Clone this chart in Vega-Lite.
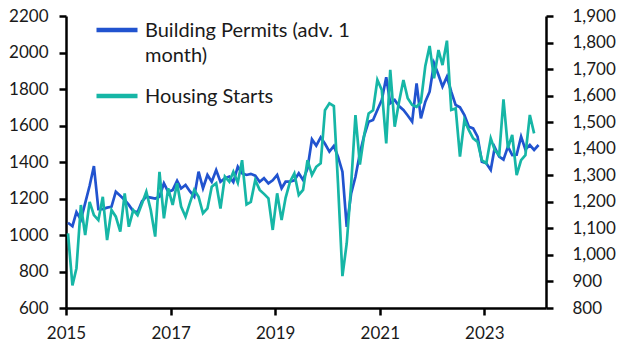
{
  "$schema": "https://vega.github.io/schema/vega-lite/v6.json",
  "width": 480,
  "height": 292,
  "autosize": "none",
  "padding": {"left": 66, "top": 16, "right": 84, "bottom": 47},
  "background": "white",
  "datasets": {
    "permits": [
      {"date": "2015-01-15", "value": 1067}, {"date": "2015-02-15", "value": 1048}, {"date": "2015-03-15", "value": 1125}, {"date": "2015-04-15", "value": 1085},
      {"date": "2015-05-15", "value": 1175}, {"date": "2015-06-15", "value": 1270}, {"date": "2015-07-15", "value": 1378}, {"date": "2015-08-15", "value": 1142},
      {"date": "2015-09-15", "value": 1142}, {"date": "2015-10-15", "value": 1150}, {"date": "2015-11-15", "value": 1155}, {"date": "2015-12-15", "value": 1237},
      {"date": "2016-01-15", "value": 1215}, {"date": "2016-02-15", "value": 1192}, {"date": "2016-03-15", "value": 1165}, {"date": "2016-04-15", "value": 1130},
      {"date": "2016-05-15", "value": 1125}, {"date": "2016-06-15", "value": 1185}, {"date": "2016-07-15", "value": 1210}, {"date": "2016-08-15", "value": 1205},
      {"date": "2016-09-15", "value": 1200}, {"date": "2016-10-15", "value": 1210}, {"date": "2016-11-15", "value": 1283}, {"date": "2016-12-15", "value": 1237},
      {"date": "2017-01-15", "value": 1246}, {"date": "2017-02-15", "value": 1297}, {"date": "2017-03-15", "value": 1255}, {"date": "2017-04-15", "value": 1274},
      {"date": "2017-05-15", "value": 1240}, {"date": "2017-06-15", "value": 1210}, {"date": "2017-07-15", "value": 1347}, {"date": "2017-08-15", "value": 1256},
      {"date": "2017-09-15", "value": 1329}, {"date": "2017-10-15", "value": 1292}, {"date": "2017-11-15", "value": 1356}, {"date": "2017-12-15", "value": 1292},
      {"date": "2018-01-15", "value": 1311}, {"date": "2018-02-15", "value": 1320}, {"date": "2018-03-15", "value": 1290}, {"date": "2018-04-15", "value": 1374},
      {"date": "2018-05-15", "value": 1338}, {"date": "2018-06-15", "value": 1329}, {"date": "2018-07-15", "value": 1335}, {"date": "2018-08-15", "value": 1325},
      {"date": "2018-09-15", "value": 1292}, {"date": "2018-10-15", "value": 1311}, {"date": "2018-11-15", "value": 1283}, {"date": "2018-12-15", "value": 1300},
      {"date": "2019-01-15", "value": 1329}, {"date": "2019-02-15", "value": 1256}, {"date": "2019-03-15", "value": 1292}, {"date": "2019-04-15", "value": 1292},
      {"date": "2019-05-15", "value": 1300}, {"date": "2019-06-15", "value": 1338}, {"date": "2019-07-15", "value": 1301}, {"date": "2019-08-15", "value": 1365},
      {"date": "2019-09-15", "value": 1524}, {"date": "2019-10-15", "value": 1490}, {"date": "2019-11-15", "value": 1535}, {"date": "2019-12-15", "value": 1500},
      {"date": "2020-01-15", "value": 1457}, {"date": "2020-02-15", "value": 1488}, {"date": "2020-03-15", "value": 1429}, {"date": "2020-04-15", "value": 1347},
      {"date": "2020-05-15", "value": 1045}, {"date": "2020-06-15", "value": 1228}, {"date": "2020-07-15", "value": 1319}, {"date": "2020-08-15", "value": 1448},
      {"date": "2020-09-15", "value": 1548}, {"date": "2020-10-15", "value": 1621}, {"date": "2020-11-15", "value": 1630}, {"date": "2020-12-15", "value": 1685},
      {"date": "2021-01-15", "value": 1740}, {"date": "2021-02-15", "value": 1864}, {"date": "2021-03-15", "value": 1722}, {"date": "2021-04-15", "value": 1740},
      {"date": "2021-05-15", "value": 1707}, {"date": "2021-06-15", "value": 1685}, {"date": "2021-07-15", "value": 1655}, {"date": "2021-08-15", "value": 1621},
      {"date": "2021-09-15", "value": 1831}, {"date": "2021-10-15", "value": 1639}, {"date": "2021-11-15", "value": 1730}, {"date": "2021-12-15", "value": 1785},
      {"date": "2022-01-15", "value": 1941}, {"date": "2022-02-15", "value": 1877}, {"date": "2022-03-15", "value": 1813}, {"date": "2022-04-15", "value": 1867},
      {"date": "2022-05-15", "value": 1785}, {"date": "2022-06-15", "value": 1712}, {"date": "2022-07-15", "value": 1700}, {"date": "2022-08-15", "value": 1657},
      {"date": "2022-09-15", "value": 1593}, {"date": "2022-10-15", "value": 1584}, {"date": "2022-11-15", "value": 1539}, {"date": "2022-12-15", "value": 1402},
      {"date": "2023-01-15", "value": 1393}, {"date": "2023-02-15", "value": 1356}, {"date": "2023-03-15", "value": 1480}, {"date": "2023-04-15", "value": 1429},
      {"date": "2023-05-15", "value": 1413}, {"date": "2023-06-15", "value": 1484}, {"date": "2023-07-15", "value": 1438}, {"date": "2023-08-15", "value": 1440},
      {"date": "2023-09-15", "value": 1539}, {"date": "2023-10-15", "value": 1469}, {"date": "2023-11-15", "value": 1493}, {"date": "2023-12-15", "value": 1466},
      {"date": "2024-01-15", "value": 1493}
    ],
    "starts": [
      {"date": "2015-01-15", "value": 1081}, {"date": "2015-02-15", "value": 885}, {"date": "2015-03-15", "value": 950}, {"date": "2015-04-15", "value": 1188},
      {"date": "2015-05-15", "value": 1075}, {"date": "2015-06-15", "value": 1200}, {"date": "2015-07-15", "value": 1150}, {"date": "2015-08-15", "value": 1131},
      {"date": "2015-09-15", "value": 1219}, {"date": "2015-10-15", "value": 1056}, {"date": "2015-11-15", "value": 1169}, {"date": "2015-12-15", "value": 1144},
      {"date": "2016-01-15", "value": 1088}, {"date": "2016-02-15", "value": 1232}, {"date": "2016-03-15", "value": 1106}, {"date": "2016-04-15", "value": 1169},
      {"date": "2016-05-15", "value": 1150}, {"date": "2016-06-15", "value": 1194}, {"date": "2016-07-15", "value": 1238}, {"date": "2016-08-15", "value": 1169},
      {"date": "2016-09-15", "value": 1069}, {"date": "2016-10-15", "value": 1313}, {"date": "2016-11-15", "value": 1138}, {"date": "2016-12-15", "value": 1251},
      {"date": "2017-01-15", "value": 1188}, {"date": "2017-02-15", "value": 1270}, {"date": "2017-03-15", "value": 1182}, {"date": "2017-04-15", "value": 1144},
      {"date": "2017-05-15", "value": 1195}, {"date": "2017-06-15", "value": 1245}, {"date": "2017-07-15", "value": 1219}, {"date": "2017-08-15", "value": 1157},
      {"date": "2017-09-15", "value": 1175}, {"date": "2017-10-15", "value": 1257}, {"date": "2017-11-15", "value": 1270}, {"date": "2017-12-15", "value": 1175},
      {"date": "2018-01-15", "value": 1295}, {"date": "2018-02-15", "value": 1276}, {"date": "2018-03-15", "value": 1313}, {"date": "2018-04-15", "value": 1272},
      {"date": "2018-05-15", "value": 1357}, {"date": "2018-06-15", "value": 1190}, {"date": "2018-07-15", "value": 1200}, {"date": "2018-08-15", "value": 1282},
      {"date": "2018-09-15", "value": 1245}, {"date": "2018-10-15", "value": 1230}, {"date": "2018-11-15", "value": 1213}, {"date": "2018-12-15", "value": 1094},
      {"date": "2019-01-15", "value": 1232}, {"date": "2019-02-15", "value": 1131}, {"date": "2019-03-15", "value": 1215}, {"date": "2019-04-15", "value": 1276},
      {"date": "2019-05-15", "value": 1307}, {"date": "2019-06-15", "value": 1226}, {"date": "2019-07-15", "value": 1245}, {"date": "2019-08-15", "value": 1357},
      {"date": "2019-09-15", "value": 1301}, {"date": "2019-10-15", "value": 1332}, {"date": "2019-11-15", "value": 1345}, {"date": "2019-12-15", "value": 1545},
      {"date": "2020-01-15", "value": 1571}, {"date": "2020-02-15", "value": 1561}, {"date": "2020-03-15", "value": 1270}, {"date": "2020-04-15", "value": 920},
      {"date": "2020-05-15", "value": 1044}, {"date": "2020-06-15", "value": 1265}, {"date": "2020-07-15", "value": 1527}, {"date": "2020-08-15", "value": 1340},
      {"date": "2020-09-15", "value": 1455}, {"date": "2020-10-15", "value": 1533}, {"date": "2020-11-15", "value": 1545}, {"date": "2020-12-15", "value": 1659},
      {"date": "2021-01-15", "value": 1621}, {"date": "2021-02-15", "value": 1420}, {"date": "2021-03-15", "value": 1697}, {"date": "2021-04-15", "value": 1483},
      {"date": "2021-05-15", "value": 1575}, {"date": "2021-06-15", "value": 1659}, {"date": "2021-07-15", "value": 1590}, {"date": "2021-08-15", "value": 1565},
      {"date": "2021-09-15", "value": 1558}, {"date": "2021-10-15", "value": 1575}, {"date": "2021-11-15", "value": 1712}, {"date": "2021-12-15", "value": 1787},
      {"date": "2022-01-15", "value": 1665}, {"date": "2022-02-15", "value": 1772}, {"date": "2022-03-15", "value": 1715}, {"date": "2022-04-15", "value": 1807},
      {"date": "2022-05-15", "value": 1546}, {"date": "2022-06-15", "value": 1552}, {"date": "2022-07-15", "value": 1370}, {"date": "2022-08-15", "value": 1508},
      {"date": "2022-09-15", "value": 1470}, {"date": "2022-10-15", "value": 1439}, {"date": "2022-11-15", "value": 1426}, {"date": "2022-12-15", "value": 1357},
      {"date": "2023-01-15", "value": 1345}, {"date": "2023-02-15", "value": 1439}, {"date": "2023-03-15", "value": 1395}, {"date": "2023-04-15", "value": 1376},
      {"date": "2023-05-15", "value": 1586}, {"date": "2023-06-15", "value": 1402}, {"date": "2023-07-15", "value": 1452}, {"date": "2023-08-15", "value": 1301},
      {"date": "2023-09-15", "value": 1357}, {"date": "2023-10-15", "value": 1376}, {"date": "2023-11-15", "value": 1527}, {"date": "2023-12-15", "value": 1458}
    ]
  },
  "config": {
    "view": {"stroke": null},
    "font": "Lato",
    "axis": {
      "grid": false,
      "domainColor": "#000000",
      "domainWidth": 2.5,
      "tickColor": "#000000",
      "tickWidth": 2.5,
      "tickSize": 7,
      "labelFontSize": 17,
      "labelColor": "#1a1a1a",
      "labelFont": "Lato",
      "title": null
    },
    "legend": {
      "orient": "none",
      "legendX": 28,
      "legendY": -9,
      "title": null,
      "symbolType": "stroke",
      "symbolSize": 1681,
      "symbolStrokeWidth": 4.5,
      "labelFontSize": 20,
      "labelFont": "Lato",
      "labelColor": "#1a1a1a",
      "labelOffset": 5,
      "labelLimit": 400,
      "labelBaseline": "alphabetic",
      "rowPadding": 7
    }
  },
  "layer": [
    {
      "data": {"name": "permits"},
      "mark": {"type": "line", "strokeWidth": 2.7},
      "encoding": {
        "x": {
          "field": "date",
          "type": "temporal",
          "scale": {
            "type": "utc",
            "domain": [{"year": 2015, "month": 1, "date": 1, "utc": true}, {"year": 2024, "month": 3, "date": 7, "utc": true}]
          },
          "axis": {
            "values": [{"year": 2015, "utc": true}, {"year": 2017, "utc": true}, {"year": 2019, "utc": true}, {"year": 2021, "utc": true}, {"year": 2023, "utc": true}],
            "format": "%Y",
            "labelPadding": 10,
            "labelFlush": false
          }
        },
        "y": {
          "field": "value",
          "type": "quantitative",
          "scale": {"domain": [600, 2200], "nice": false, "zero": false},
          "axis": {"orient": "left", "values": [600, 800, 1000, 1200, 1400, 1600, 1800, 2000, 2200], "format": "d", "labelPadding": 11}
        },
        "color": {
          "datum": "Building Permits (adv. 1 month)",
          "type": "nominal",
          "scale": {"domain": ["Building Permits (adv. 1 month)", "Housing Starts"], "range": ["#2153cf", "#16b6a6"]},
          "legend": {
            "labelExpr": "datum.label == 'Building Permits (adv. 1 month)' ? ['Building Permits (adv. 1', 'month)'] : datum.label",
            "encode": {"labels": {"update": {"dy": {"value": 7}, "lineHeight": {"value": 25}}}}
          }
        }
      }
    },
    {
      "data": {"name": "starts"},
      "mark": {"type": "line", "strokeWidth": 2.7},
      "encoding": {
        "x": {"field": "date", "type": "temporal"},
        "y": {
          "field": "value",
          "type": "quantitative",
          "scale": {"domain": [800, 1900], "nice": false, "zero": false},
          "axis": {"orient": "right", "values": [800, 900, 1000, 1100, 1200, 1300, 1400, 1500, 1600, 1700, 1800, 1900], "format": ",d", "labelPadding": 19}
        },
        "color": {"datum": "Housing Starts", "type": "nominal"}
      }
    }
  ],
  "resolve": {"scale": {"y": "independent"}}
}
